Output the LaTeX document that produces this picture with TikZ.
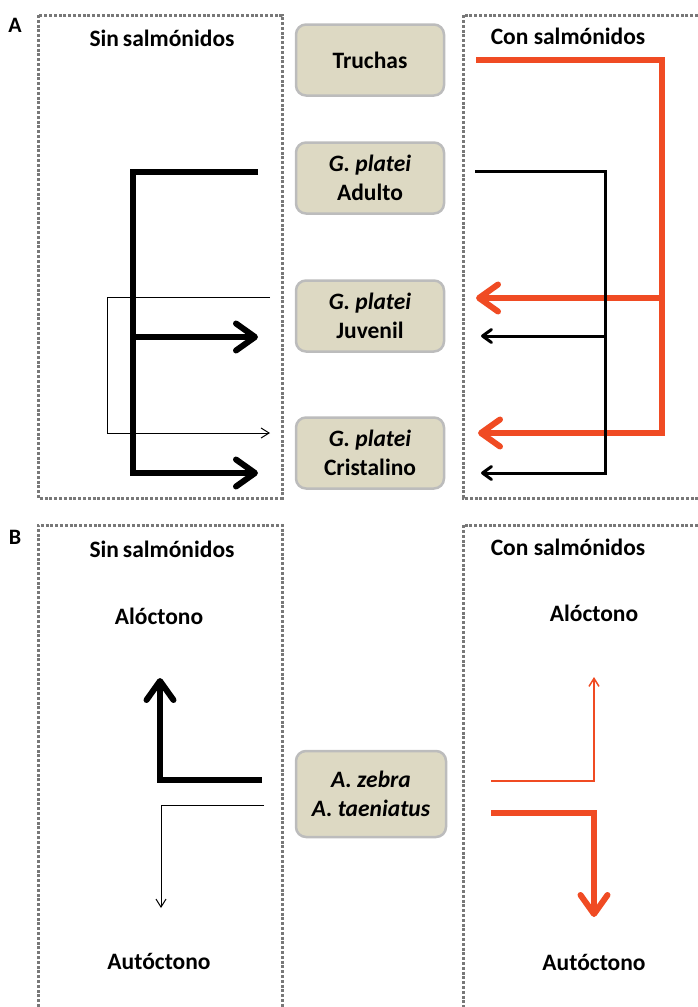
\documentclass[tikz,border=0pt]{standalone}
\usepackage{fontspec}
\setmainfont{Carlito}
\usetikzlibrary{arrows.meta}
\definecolor{boxfill}{RGB}{221,217,195}
\definecolor{boxdraw}{RGB}{188,188,188}
\definecolor{dotgray}{RGB}{120,120,120}
\definecolor{redl}{RGB}{240,75,35}
\begin{document}
\begin{tikzpicture}[x=1pt,y=-1pt,
  txt/.style={font=\fontsize{23.5}{29}\selectfont\bfseries, inner sep=0pt, align=center},
  panel/.style={font=\fontsize{22}{26}\selectfont\bfseries, inner sep=0pt},
  stage/.style={txt, draw=boxdraw, line width=2.5pt, fill=boxfill, rounded corners=10pt,
                minimum width=148pt, minimum height=71pt},
  frame/.style={draw=dotgray, line width=3pt, dash pattern=on 3pt off 1.8pt},
  heavy/.style={line width=6pt, line join=miter},
  medium/.style={line width=3pt, line join=miter},
  light/.style={line width=1pt, line join=miter},
  bigtip/.style={-{Straight Barb[length=19pt,width=27pt,round]}},
  midtip/.style={-{Straight Barb[length=9pt,width=13pt,round]}},
  smalltip/.style={-{Straight Barb[length=8pt,width=10pt]}}
]
\useasboundingbox (0,0) rectangle (698,1007);

% ---------- Panel A ----------
\node[panel] (labA) at (15,25) {A};
\draw[frame] (38,15) rectangle (282,498);
\draw[frame] (698,15) -- (463,15) -- (463,498) -- (698,498);
\node[txt] (sinA) at (162,38) {Sin\,salmónidos};
\node[txt] (conA) at (568,36) {Con salmónidos};

\node[stage] (tru) at (370,60) {Truchas};
\node[stage] (adu) at (370,178) {\textit{G. platei}\\Adulto};
\node[stage] (juv) at (370,316) {\textit{G. platei}\\Juvenil};
\node[stage] (cri) at (370,453) {\textit{G. platei}\\Cristalino};

% left side connectors
\coordinate (la0) at (258,172);
\coordinate (la1) at (133,172);
\coordinate (la2) at (133,473);
\coordinate (la3) at (258,473);
\coordinate (lb0) at (133,337);
\coordinate (lb1) at (258,337);
\draw[heavy,bigtip] (la0) -- (la1) -- (la2) -- (la3);
\draw[heavy,bigtip] (lb0) -- (lb1);

\coordinate (lt0) at (270,297);
\coordinate (lt1) at (107,297);
\coordinate (lt2) at (107,433);
\coordinate (lt3) at (270,433);
\draw[light,smalltip] (lt0) -- (lt1) -- (lt2) -- (lt3);

% right side connectors
\coordinate (ra0) at (476,60);
\coordinate (ra1) at (662,60);
\coordinate (ra2) at (662,433);
\coordinate (ra3) at (478,433);
\coordinate (rb0) at (662,298);
\coordinate (rb1) at (476,298);
\draw[heavy,redl,bigtip] (ra0) -- (ra1) -- (ra2) -- (ra3);
\draw[heavy,redl,bigtip] (rb0) -- (rb1);

\coordinate (rk0) at (475,171);
\coordinate (rk1) at (605,171);
\coordinate (rk2) at (605,473);
\coordinate (rk3) at (481,473);
\coordinate (rl0) at (605,336);
\coordinate (rl1) at (481,336);
\draw[medium,midtip] (rk0) -- (rk1) -- (rk2) -- (rk3);
\draw[medium,midtip] (rl0) -- (rl1);

% ---------- Panel B ----------
\node[panel] (labB) at (15,537) {B};
\draw[frame] (38,1007) -- (38,525) -- (282,525) -- (282,1007);
\draw[frame] (698,525) -- (463,525) -- (463,1007);
\node[txt] (sinB) at (162,549) {Sin\,salmónidos};
\node[txt] (conB) at (568,547) {Con salmónidos};

\node[txt] (aloL) at (159,616) {Alóctono};
\node[txt] (autL) at (159,961) {Autóctono};
\node[txt] (aloR) at (594,613) {Alóctono};
\node[txt] (autR) at (594,962) {Autóctono};

\node[stage, minimum width=150pt, minimum height=86pt] (zeb) at (371,794)
  {\textit{A. zebra}\\\textit{A. taeniatus}};

\coordinate (bl0) at (262,780);
\coordinate (bl1) at (160,780);
\coordinate (bl2) at (160,678);
\draw[heavy,bigtip] (bl0) -- (bl1) -- (bl2);

\coordinate (bm0) at (264,805);
\coordinate (bm1) at (161,805);
\coordinate (bm2) at (161,908);
\draw[light,smalltip] (bm0) -- (bm1) -- (bm2);

\coordinate (br0) at (491,781);
\coordinate (br1) at (594,781);
\coordinate (br2) at (594,677);
\draw[line width=1.5pt, line join=miter, redl, smalltip] (br0) -- (br1) -- (br2);

\coordinate (bs0) at (491,813);
\coordinate (bs1) at (594,813);
\coordinate (bs2) at (594,917);
\draw[heavy,redl,bigtip] (bs0) -- (bs1) -- (bs2);
\end{tikzpicture}
\end{document}
